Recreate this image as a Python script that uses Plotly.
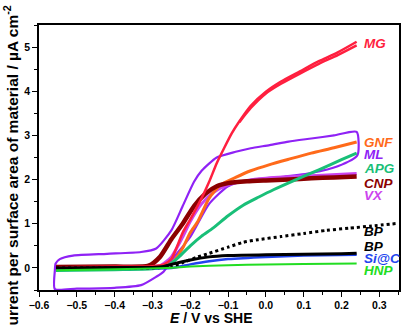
import plotly.graph_objects as go

# MG (red) forward and return branch
mg_x = [-0.555, -0.5, -0.4, -0.3, -0.27, -0.25, -0.22, -0.2, -0.17, -0.15, -0.13, -0.11,
        -0.09, -0.07, -0.04, 0.0, 0.04, 0.09, 0.14, 0.19, 0.24]
mg_y = [0.0, 0.02, 0.03, 0.04, 0.08, 0.2, 0.8, 1.1, 1.58, 1.95, 2.37, 2.72,
        3.05, 3.32, 3.67, 3.99, 4.22, 4.45, 4.68, 4.88, 5.12]
mg_rx = [0.24, 0.19, 0.14, 0.09, 0.04, 0.0, -0.04, -0.07]
mg_ry = [5.04, 4.82, 4.62, 4.4, 4.17, 3.95, 3.62, 3.3]

# ML (violet) closed loop
ml_x = [-0.558, -0.556, -0.545, -0.51, -0.42, -0.33, -0.29, -0.25, -0.22, -0.19, -0.17,
        -0.13, -0.08, -0.04, 0.01, 0.06, 0.12, 0.18, 0.24, 0.242, 0.19, 0.12, 0.05,
        -0.05, -0.1, -0.15, -0.2, -0.25, -0.27, -0.29, -0.33, -0.4, -0.5, -0.558, -0.558]
ml_y = [-0.05, 0.1, 0.2, 0.28, 0.32, 0.36, 0.44, 0.85, 1.4, 1.95, 2.2,
        2.5, 2.63, 2.71, 2.78, 2.86, 2.93, 3.0, 3.08, 2.55, 2.3, 2.15, 2.07,
        1.98, 1.85, 1.45, 0.7, 0.17, -0.08, -0.2, -0.39, -0.45, -0.47, -0.48, -0.05]

# GNF (orange)
gnf_x = [-0.555, -0.4, -0.3, -0.25, -0.22, -0.2, -0.18, -0.15, -0.12, -0.08, -0.04,
         0.01, 0.06, 0.12, 0.18, 0.24]
gnf_y = [0.0, 0.02, 0.02, 0.1, 0.45, 0.8, 1.05, 1.58, 1.88, 2.05, 2.2,
         2.34, 2.46, 2.6, 2.72, 2.85]

# APG (teal green)
apg_x = [-0.555, -0.4, -0.3, -0.26, -0.23, -0.2, -0.17, -0.14, -0.1, -0.06, -0.02,
         0.02, 0.08, 0.14, 0.2, 0.24]
apg_y = [-0.06, -0.04, -0.02, 0.05, 0.25, 0.5, 0.72, 0.9, 1.18, 1.42, 1.6,
         1.77, 2.0, 2.22, 2.45, 2.6]

# CNP (dark red)
cnp_x = [-0.555, -0.4, -0.31, -0.28, -0.25, -0.22, -0.19, -0.16, -0.13, -0.1, -0.05,
         0.0, 0.06, 0.12, 0.18, 0.24]
cnp_y = [0.02, 0.03, 0.05, 0.25, 0.65, 1.0, 1.4, 1.68, 1.85, 1.92, 1.96,
         1.98, 2.0, 2.03, 2.05, 2.07]

# VX (magenta)
vx_x = [-0.555, -0.4, -0.28, -0.25, -0.22, -0.2, -0.17, -0.14, -0.1, -0.05, 0.0,
        0.1, 0.2, 0.24]
vx_y = [0.0, 0.02, 0.05, 0.25, 0.7, 1.05, 1.45, 1.7, 1.88, 1.98, 2.03,
        2.08, 2.12, 2.14]

# BP (black dotted)
bpd_x = [-0.555, -0.4, -0.3, -0.25, -0.22, -0.18, -0.15, -0.1, -0.06, -0.02, 0.04,
         0.1, 0.16, 0.22, 0.28, 0.35]
bpd_y = [0.0, 0.0, 0.0, 0.03, 0.12, 0.25, 0.33, 0.47, 0.58, 0.64, 0.71,
         0.78, 0.85, 0.9, 0.95, 1.01]

# BP (black solid)
bp_x = [-0.555, -0.4, -0.3, -0.27, -0.25, -0.2, -0.15, -0.1, 0.0, 0.1, 0.2, 0.24]
bp_y = [0.0, 0.01, 0.01, 0.03, 0.08, 0.18, 0.25, 0.28, 0.3, 0.31, 0.32, 0.33]

# Si@C (blue)
sic_x = [-0.555, -0.4, -0.25, -0.2, -0.15, -0.1, 0.0, 0.1, 0.24]
sic_y = [-0.02, -0.01, 0.0, 0.08, 0.15, 0.2, 0.25, 0.28, 0.3]

# HNP (green)
hnp_x = [-0.555, -0.4, -0.26, -0.2, -0.1, 0.0, 0.1, 0.24]
hnp_y = [-0.05, -0.03, 0.0, 0.03, 0.06, 0.08, 0.09, 0.1]

label_text = ["MG", "GNF", "ML", "APG", "CNP", "VX", "BP", "BP", "Si@C", "HNP"]
label_y = [5.07, 2.83, 2.57, 2.26, 1.92, 1.65, 0.83, 0.49, 0.22, -0.05]
label_color = ["#FF1F3F", "#FF6A1A", "#8F22F5", "#19BF78", "#8B0000", "#CC44EE",
               "#000000", "#000000", "#2244EE", "#22DD22"]

FONT = "Liberation Sans, Arial"
fig = go.Figure()


def add(x, y, color, width=2.5, dash=None):
    fig.add_trace(go.Scatter(x=x, y=y, mode="lines", showlegend=False, hoverinfo="skip",
                             line=dict(color=color, width=width, shape="spline",
                                       smoothing=0.6, dash=dash)))


add(ml_x, ml_y, "#8F22F5", 2.2)
add(vx_x, vx_y, "#CC44EE", 3)
add(gnf_x, gnf_y, "#FF6A1A", 3)
add(cnp_x, cnp_y, "#8B0000", 4.5)
add(mg_x, mg_y, "#FF1F3F", 2.5)
add(mg_rx, mg_ry, "#FF1F3F", 2.5)
add(apg_x, apg_y, "#19BF78", 3)
add(sic_x, sic_y, "#2244EE", 2.5)
add(bp_x, bp_y, "#000000", 3)
add(bpd_x, bpd_y, "#000000", 3, "dot")
add(hnp_x, hnp_y, "#22DD22", 2)

for t, y, c in zip(label_text, label_y, label_color):
    fig.add_annotation(x=0.254, y=y, text="<b><i>" + t + "</i></b>", showarrow=False,
                       xanchor="left", yanchor="middle",
                       font=dict(family=FONT, size=13.5, color=c))

# axis titles as annotations (paper coordinates)
fig.add_annotation(xref="paper", yref="paper", x=-0.078, y=0.45, textangle=-90,
                   text="<b>Current per surface area of material / \u00b5A cm<sup>-2</sup></b>",
                   showarrow=False, xanchor="center", yanchor="middle",
                   font=dict(family=FONT, size=15.5, color="black"))
fig.add_annotation(xref="paper", yref="paper", x=0.478, y=-0.107,
                   text="<b><i>E</i> / V vs SHE</b>",
                   showarrow=False, xanchor="center", yanchor="middle",
                   font=dict(family=FONT, size=14, color="black"))

axis_common = dict(showgrid=False, zeroline=False, showline=True, linecolor="black",
                   linewidth=1.5, mirror=True, ticks="outside", ticklen=5, tickwidth=1.2,
                   tickcolor="black", automargin=False,
                   tickfont=dict(family=FONT, size=10.5, color="black", weight="bold"))

fig.update_xaxes(range=[-0.6, 0.352], dtick=0.1, tick0=-0.6, tickformat=".1f",
                 minor=dict(dtick=0.05, ticks="outside", ticklen=3, tickcolor="black"),
                 **axis_common)
fig.update_yaxes(range=[-0.5, 5.5], dtick=1, tick0=0,
                 minor=dict(dtick=0.5, ticks="outside", ticklen=3, tickcolor="black"),
                 **axis_common)

fig.update_layout(width=401, height=326, margin=dict(l=39, r=2, t=25, b=36),
                  plot_bgcolor="white", paper_bgcolor="white")

# the page's default body margin would shift the 401x326 figure out of the window
fig.write_html("out.html", config={"displayModeBar": False},
               post_script="document.body.style.margin='0';document.body.style.overflow='hidden';")
